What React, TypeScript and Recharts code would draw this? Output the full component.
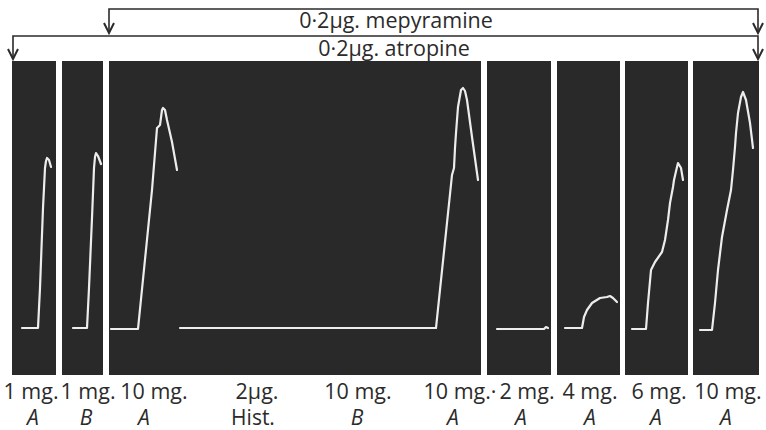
import React from 'react';
import { ComposedChart, Line, XAxis, YAxis, ReferenceArea, Scatter } from 'recharts';

// x: time along the record (chart units), y: lever height above baseline (chart units)
const PANELS = [
  { start: 12, end: 56 },
  { start: 62, end: 103 },
  { start: 109, end: 481 },
  { start: 487, end: 551 },
  { start: 557, end: 620 },
  { start: 625, end: 688 },
  { start: 693, end: 759 },
];
const PANEL_TOP = 267;
const PANEL_BOTTOM = -47;

const TRACE_1MG_A = [
  { x: 22, y: 0 }, { x: 38, y: 0 }, { x: 40, y: 40 }, { x: 43, y: 120 }, { x: 45, y: 160 },
  { x: 46, y: 167 }, { x: 47, y: 170 }, { x: 49, y: 168 }, { x: 51, y: 161 },
];
const TRACE_1MG_B = [
  { x: 73, y: 0 }, { x: 87, y: 0 }, { x: 89, y: 40 }, { x: 92, y: 110 }, { x: 94, y: 160 },
  { x: 95, y: 171 }, { x: 96, y: 175 }, { x: 98, y: 172 }, { x: 101, y: 164 },
];
const TRACE_10MG_A = [
  { x: 111, y: -1 }, { x: 138, y: -1 }, { x: 152, y: 138 }, { x: 157, y: 200 }, { x: 160, y: 203 },
  { x: 162, y: 218 }, { x: 163, y: 220 }, { x: 165, y: 218 }, { x: 167, y: 208 }, { x: 172, y: 186 },
  { x: 177, y: 158 },
];
const TRACE_HIST = [{ x: 180, y: 0 }, { x: 300, y: 0 }, { x: 436, y: 0 }];
const TRACE_10MG_A_2 = [
  { x: 436, y: 0 }, { x: 452, y: 153 }, { x: 454, y: 160 }, { x: 455, y: 180 }, { x: 456, y: 195 },
  { x: 458, y: 221 }, { x: 461, y: 238 }, { x: 463, y: 240 }, { x: 465, y: 237 }, { x: 467, y: 228 },
  { x: 472, y: 191 }, { x: 478, y: 148 },
];
const TRACE_2MG_A = [
  { x: 497, y: -1 }, { x: 540, y: -1 }, { x: 544, y: -1 }, { x: 546, y: 1 }, { x: 548, y: 0 },
];
const TRACE_4MG_A = [
  { x: 565, y: 0 }, { x: 582, y: 0 }, { x: 584, y: 11 }, { x: 587, y: 18 }, { x: 592, y: 25 },
  { x: 600, y: 30 }, { x: 607, y: 31 }, { x: 610, y: 32 }, { x: 613, y: 30 }, { x: 617, y: 26 },
];
const TRACE_6MG_A = [
  { x: 632, y: -1 }, { x: 646, y: -1 }, { x: 648, y: 25 }, { x: 651, y: 58 }, { x: 655, y: 66 },
  { x: 662, y: 76 }, { x: 665, y: 88 }, { x: 668, y: 108 }, { x: 670, y: 125 }, { x: 673, y: 141 },
  { x: 674, y: 148 }, { x: 677, y: 161 }, { x: 678, y: 165 }, { x: 681, y: 160 }, { x: 683, y: 148 },
];
const TRACE_10MG_A_3 = [
  { x: 700, y: -2 }, { x: 712, y: -2 }, { x: 715, y: 25 }, { x: 718, y: 58 }, { x: 722, y: 91 },
  { x: 727, y: 118 }, { x: 731, y: 138 }, { x: 733, y: 158 }, { x: 735, y: 181 }, { x: 736, y: 195 },
  { x: 738, y: 215 }, { x: 741, y: 231 }, { x: 743, y: 236 }, { x: 746, y: 228 }, { x: 750, y: 205 },
  { x: 753, y: 180 },
];
const TRACES = [
  TRACE_1MG_A, TRACE_1MG_B, TRACE_10MG_A, TRACE_HIST, TRACE_10MG_A_2,
  TRACE_2MG_A, TRACE_4MG_A, TRACE_6MG_A, TRACE_10MG_A_3,
];

// drug-application brackets
const MEPYRAMINE_BRACKET = [{ x: 109, y: 296 }, { x: 109, y: 319 }, { x: 758, y: 319 }, { x: 758, y: 296 }];
const MEPYRAMINE_ARROWS = [
  [{ x: 104, y: 305 }, { x: 109, y: 295 }, { x: 114, y: 305 }],
  [{ x: 753, y: 305 }, { x: 758, y: 295 }, { x: 763, y: 305 }],
];
const ATROPINE_BRACKET = [{ x: 13, y: 270 }, { x: 13, y: 292 }, { x: 758, y: 292 }, { x: 758, y: 270 }];
const ATROPINE_ARROWS = [
  [{ x: 8, y: 279 }, { x: 13, y: 269 }, { x: 18, y: 279 }],
  [{ x: 753, y: 279 }, { x: 758, y: 269 }, { x: 763, y: 279 }],
];
const DRUG_TEXTS = [
  { x: 396, y: 300, label: '0·2μg. mepyramine' },
  { x: 394, y: 272, label: '0·2μg. atropine' },
];

const DOSE_TICKS = [31, 88, 154, 257, 358, 460, 527, 590, 659, 728];
const DOSE_LABELS = ['1 mg.', '1 mg.', '10 mg.', '2μg.', '10 mg.', '10 mg.·', '2 mg.', '4 mg.', '6 mg.', '10 mg.'];
const AGENT_TICKS = [33, 86, 144, 253, 357, 453, 521, 590, 656, 726];
const AGENT_LABELS = ['A', 'B', 'A', 'Hist.', 'B', 'A', 'A', 'A', 'A', 'A'];

const FONT = "'Open Sans', 'DejaVu Sans', sans-serif";
const INK = '#2b2b2b';

const DoseTick = (props: any) => {
  const { x, y, payload } = props;
  const i = DOSE_TICKS.indexOf(payload.value);
  return (
    <text x={x} y={y + 24} textAnchor="middle" fontFamily={FONT} fontSize={21.5} fill={INK}>
      {DOSE_LABELS[i]}
    </text>
  );
};

const AgentTick = (props: any) => {
  const { x, y, payload } = props;
  const i = AGENT_TICKS.indexOf(payload.value);
  const label = AGENT_LABELS[i];
  return (
    <text
      x={x}
      y={y + 22}
      textAnchor="middle"
      fontFamily={FONT}
      fontSize={21}
      fontStyle={label.length === 1 ? 'italic' : 'normal'}
      fill={INK}
    >
      {label}
    </text>
  );
};

const TextShape = (props: any) => {
  const { cx, cy, payload } = props;
  return (
    <text x={cx} y={cy} textAnchor="middle" fontFamily={FONT} fontSize={21.5} fill={INK}>
      {payload.label}
    </text>
  );
};

export default function App() {
  return (
    <div style={{ position: 'absolute', left: 0, top: 0, background: '#ffffff' }}>
      <ComposedChart width={766} height={430} margin={{ top: 0, right: 0, bottom: 0, left: 0 }}>
        <XAxis
          xAxisId={0}
          type="number"
          dataKey="x"
          domain={[0, 766]}
          ticks={DOSE_TICKS}
          interval={0}
          axisLine={false}
          tickLine={false}
          tickSize={0}
          tickMargin={0}
          height={28}
          tick={<DoseTick />}
          allowDataOverflow
        />
        <XAxis
          xAxisId="agent"
          type="number"
          dataKey="x"
          domain={[0, 766]}
          ticks={AGENT_TICKS}
          interval={0}
          axisLine={false}
          tickLine={false}
          tickSize={0}
          tickMargin={0}
          height={27}
          tick={<AgentTick />}
          allowDataOverflow
        />
        <YAxis type="number" dataKey="y" domain={[-47, 328]} hide allowDataOverflow />
        {PANELS.map((p, i) => (
          <ReferenceArea
            key={'p' + i}
            xAxisId={0}
            x1={p.start}
            x2={p.end}
            y1={PANEL_BOTTOM}
            y2={PANEL_TOP}
            fill="#292929"
            fillOpacity={1}
            stroke="none"
          />
        ))}
        {TRACES.map((t, i) => (
          <Line
            key={'t' + i}
            xAxisId={0}
            data={t}
            dataKey="y"
            type="linear"
            stroke="#ededed"
            strokeWidth={2.2}
            dot={false}
            activeDot={false}
            isAnimationActive={false}
            strokeLinejoin="round"
            strokeLinecap="round"
          />
        ))}
        {[MEPYRAMINE_BRACKET, ATROPINE_BRACKET].map((b, i) => (
          <Line
            key={'b' + i}
            xAxisId={0}
            data={b}
            dataKey="y"
            type="linear"
            stroke={INK}
            strokeWidth={1.6}
            dot={false}
            activeDot={false}
            isAnimationActive={false}
          />
        ))}
        {[...MEPYRAMINE_ARROWS, ...ATROPINE_ARROWS].map((a, i) => (
          <Line
            key={'a' + i}
            xAxisId={0}
            data={a}
            dataKey="y"
            type="linear"
            stroke={INK}
            strokeWidth={2}
            dot={false}
            activeDot={false}
            isAnimationActive={false}
          />
        ))}
        <Scatter
          xAxisId={0}
          data={DRUG_TEXTS}
          dataKey="y"
          shape={<TextShape />}
          isAnimationActive={false}
        />
      </ComposedChart>
    </div>
  );
}
